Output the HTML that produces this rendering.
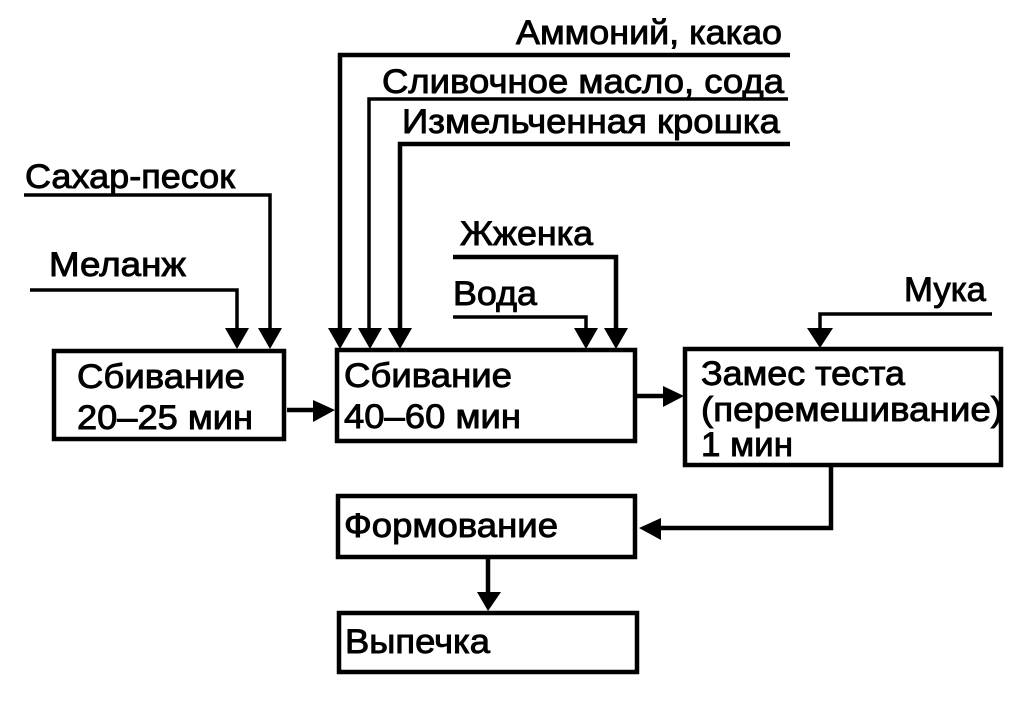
<!DOCTYPE html>
<html lang="ru">
<head>
<meta charset="utf-8">
<style>
html,body{margin:0;padding:0;background:#fff;width:1030px;height:709px;overflow:hidden}
svg{display:block}
text{font-family:"Liberation Sans",Arial,sans-serif;font-size:34px;fill:#000;stroke:#000;stroke-width:.9px}
.l{fill:none;stroke:#000;stroke-width:4.5}
.t{fill:none;stroke:#000;stroke-width:3.5}
.b{fill:#fff;stroke:#000;stroke-width:4.5}
.a{fill:#000}
</style>
</head>
<body>
<svg width="1030" height="709" viewBox="0 0 1030 709">
<!-- boxes -->
<rect class="b" x="54" y="351" width="230" height="88"/>
<rect class="b" x="337" y="350" width="298" height="91"/>
<rect class="b" x="685" y="349" width="316" height="116"/>
<rect class="b" x="338" y="496" width="297" height="61"/>
<rect class="b" x="339" y="613" width="298" height="59"/>
<!-- top lines -->
<path class="l" d="M790 55H340V330"/>
<path class="t" d="M788 99H369V330"/>
<path class="l" d="M790 144H400V330"/>
<path class="t" d="M24 195H270V330"/>
<path class="t" d="M30 290H237V330"/>
<path class="l" d="M453 257H616V330"/>
<path class="t" d="M453 317H586V330"/>
<path class="t" d="M992 314H820V330"/>
<!-- connectors -->
<path class="l" d="M287 410H315"/>
<path class="l" d="M637 396H665"/>
<path class="l" d="M831 467V528H660"/>
<path class="l" d="M488 559V594"/>
<!-- arrowheads -->
<polygon class="a" points="328,328 352,328 340,349"/>
<polygon class="a" points="358,328 382,328 370,349"/>
<polygon class="a" points="388,328 412,328 400,349"/>
<polygon class="a" points="258,328 282,328 270,349"/>
<polygon class="a" points="225,328 249,328 237,349"/>
<polygon class="a" points="604,328 628,328 616,349"/>
<polygon class="a" points="574,328 598,328 586,349"/>
<polygon class="a" points="807,328 833,328 820,348"/>
<polygon class="a" points="313,400 313,422 335,410"/>
<polygon class="a" points="663,386 663,407 684,396"/>
<polygon class="a" points="661,518 661,540 639,528"/>
<polygon class="a" points="477,592 501,592 488,611"/>
<!-- labels -->
<text x="516" y="44" textLength="266" lengthAdjust="spacingAndGlyphs">Аммоний, какао</text>
<text x="382" y="93" textLength="402" lengthAdjust="spacingAndGlyphs">Сливочное масло, сода</text>
<text x="402" y="133" textLength="378" lengthAdjust="spacingAndGlyphs">Измельченная крошка</text>
<text x="25" y="188" textLength="210" lengthAdjust="spacingAndGlyphs">Сахар-песок</text>
<text x="49" y="276" textLength="137" lengthAdjust="spacingAndGlyphs">Меланж</text>
<text x="460" y="245" textLength="133" lengthAdjust="spacingAndGlyphs">Жженка</text>
<text x="453" y="305" textLength="84" lengthAdjust="spacingAndGlyphs">Вода</text>
<text x="904" y="301" textLength="82" lengthAdjust="spacingAndGlyphs">Мука</text>
<text x="77" y="388" textLength="168" lengthAdjust="spacingAndGlyphs">Сбивание</text>
<text x="77" y="429" textLength="176" lengthAdjust="spacingAndGlyphs">20–25 мин</text>
<text x="344" y="387" textLength="168" lengthAdjust="spacingAndGlyphs">Сбивание</text>
<text x="344" y="428" textLength="177" lengthAdjust="spacingAndGlyphs">40–60 мин</text>
<text x="701" y="385" textLength="204" lengthAdjust="spacingAndGlyphs">Замес теста</text>
<text x="701" y="421" textLength="302" lengthAdjust="spacingAndGlyphs">(перемешивание)</text>
<text x="701" y="456" textLength="92" lengthAdjust="spacingAndGlyphs">1 мин</text>
<text x="344" y="537" textLength="214" lengthAdjust="spacingAndGlyphs">Формование</text>
<text x="345" y="653" textLength="145" lengthAdjust="spacingAndGlyphs">Выпечка</text>
</svg>
</body>
</html>
